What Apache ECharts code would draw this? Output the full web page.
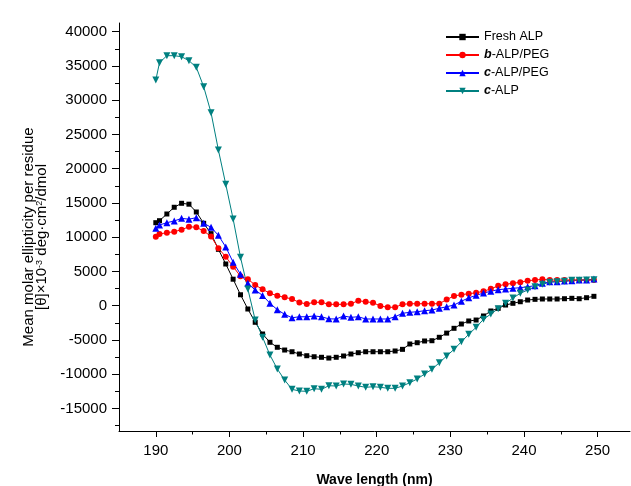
<!DOCTYPE html>
<html>
<head>
<meta charset="utf-8">
<script src="https://cdn.jsdelivr.net/npm/echarts@6/dist/echarts.min.js"></script>
<style>
  html, body { margin: 0; padding: 0; background: #fff; }
  #CDChart { width: 631px; height: 486px; }
</style>
</head>
<body>
<div id="CDChart"></div>
<script>
// wavelength (nm) of each measured point
var wavelength = [190, 190.5, 191.5, 192.5, 193.5, 194.5, 195.5, 196.5, 197.5, 198.5,
    199.5, 200.5, 201.5, 202.5, 203.5, 204.5, 205.5, 206.5, 207.5, 208.5,
    209.5, 210.5, 211.5, 212.5, 213.5, 214.5, 215.5, 216.5, 217.5, 218.5,
    219.5, 220.5, 221.5, 222.5, 223.5, 224.5, 225.5, 226.5, 227.5, 228.5,
    229.5, 230.5, 231.5, 232.5, 233.5, 234.5, 235.5, 236.5, 237.5, 238.5,
    239.5, 240.5, 241.5, 242.5, 243.5, 244.5, 245.5, 246.5, 247.5, 248.5, 249.5];

var freshALP = [12120, 12410, 13390, 14370, 14950, 14820, 13680, 12030, 10520, 8230,
    6090, 3870, 1600, -480, -2420, -4130, -5340, -6070, -6470, -6720,
    -7050, -7300, -7450, -7530, -7640, -7530, -7340, -7050, -6860, -6720,
    -6720, -6720, -6720, -6610, -6370, -5590, -5400, -5150, -5110, -4610,
    -4000, -3300, -2670, -2230, -2090, -1500, -770, -380, 100, 350,
    580, 830, 930, 980, 980, 980, 1020, 1080, 1020, 1170, 1370];

var bALPPEG = [10070, 10470, 10660, 10800, 11100, 11530, 11450, 10900, 10120, 8380,
    7150, 5700, 4300, 3880, 3020, 2390, 1810, 1460, 1220, 980,
    470, 250, 500, 500, 200, 200, 200, 290, 730, 580,
    440, -40, -230, -230, 200, 290, 290, 290, 290, 290,
    900, 1420, 1610, 1760, 1880, 2110, 2460, 2900, 3120, 3270,
    3420, 3650, 3750, 3850, 3750, 3750, 3750, 3750, 3750, 3750, 3750];

var cALPPEG = [11300, 11780, 12120, 12370, 12750, 12630, 12850, 12030, 11450, 10270,
    8570, 6350, 4600, 3270, 2290, 1500, 350, -580, -1260, -1760,
    -1610, -1610, -1500, -1610, -1920, -1940, -1500, -1700, -1610, -1940,
    -1940, -1940, -1940, -1610, -1110, -960, -880, -730, -630, -380,
    -150, 100, 650, 1150, 1510, 1850, 2110, 2340, 2440, 2540,
    2630, 2770, 2920, 3270, 3500, 3500, 3600, 3650, 3750, 3750, 3900];

var cALP = [32950, 35480, 36500, 36500, 36350, 35770, 34800, 31970, 28180, 22730,
    17720, 12660, 7070, 2440, -2090, -4610, -7200, -9240, -10850, -12210,
    -12450, -12500, -12110, -12210, -11680, -11720, -11430, -11480, -11720, -11910,
    -11830, -11910, -12060, -12060, -11720, -11240, -10700, -9970, -9290, -8320,
    -7340, -6370, -5260, -4180, -3150, -1990, -1210, -440, 350, 1120,
    1810, 2290, 2770, 3120, 3420, 3500, 3560, 3710, 3710, 3750, 3800];

// tick values
var xMajorTicks = [190, 200, 210, 220, 230, 240, 250];
var xMinorTicks = [195, 205, 215, 225, 235, 245];
var yMajorTicks = [-15000, -10000, -5000, 0, 5000, 10000, 15000, 20000, 25000, 30000, 35000, 40000];
var yMinorTicks = [-17500, -12500, -7500, -2500, 2500, 7500, 12500, 17500, 22500, 27500, 32500, 37500];

var FONT = '"Liberation Sans", Arial, sans-serif';

function pairs(ys) {
    var out = [];
    for (var i = 0; i < wavelength.length; i++) {
        out.push([wavelength[i], ys[i]]);
    }
    return out;
}

function makeSeries(name, color, symbol, size, ys, rotate) {
    return {
        name: name,
        type: 'line',
        xAxisIndex: 0,
        yAxisIndex: 0,
        symbol: symbol,
        symbolSize: size,
        symbolRotate: rotate || 0,
        showAllSymbol: true,
        lineStyle: { color: color, width: 1 },
        itemStyle: { color: color },
        data: pairs(ys)
    };
}

var myChart = echarts.init(document.getElementById('CDChart'), null, { renderer: 'canvas' });

var xRange = { min: 185, max: 254.4 };
var yRange = { min: -18290, max: 41270 };

var option = {
    animation: false,
    backgroundColor: '#fff',
    // fixed plot box, do not let v6 shrink it to fit the axis names
    grid: { left: 119, right: 1, top: 23, bottom: 55, outerBoundsMode: 'none', containLabel: false },
    legend: {
        orient: 'vertical',
        left: 445,
        top: 30.5,
        padding: 0,
        itemWidth: 33,
        itemHeight: 8,
        itemGap: 5,
        textStyle: {
            fontFamily: FONT, fontSize: 12.5, color: '#000',
            rich: {
                bi: { fontFamily: FONT, fontSize: 12.5, fontWeight: 'bold', fontStyle: 'italic', color: '#000' },
                t: { fontFamily: FONT, fontSize: 12.5, color: '#000' }
            }
        },
        formatter: function (name) {
            if (name.charAt(1) === '-') {
                return '{bi|' + name.charAt(0) + '}{t|' + name.slice(1) + '}';
            }
            return name;
        },
        data: ['Fresh ALP', 'b-ALP/PEG', 'c-ALP/PEG', 'c-ALP']
    },
    xAxis: [
        {
            type: 'value',
            min: xRange.min,
            max: xRange.max,
            name: 'Wave length (nm)',
            nameLocation: 'middle',
            nameGap: 42,
            nameTextStyle: { fontFamily: FONT, fontSize: 14, fontWeight: 'bold', color: '#000' },
            axisLine: { show: true, onZero: false, lineStyle: { color: '#000', width: 1 } },
            axisTick: { show: true, inside: false, length: 6, customValues: xMajorTicks, lineStyle: { color: '#000' } },
            axisLabel: {
                margin: 12, customValues: xMajorTicks, fontFamily: FONT, fontSize: 15, color: '#000',
                formatter: function (v) { return String(v); }
            },
            splitLine: { show: false }
        },
        {
            // minor ticks only
            type: 'value',
            position: 'bottom',
            min: xRange.min,
            max: xRange.max,
            axisLine: { show: false, onZero: false },
            axisTick: { show: true, inside: false, length: 3.5, customValues: xMinorTicks, lineStyle: { color: '#000' } },
            axisLabel: { show: false },
            splitLine: { show: false }
        }
    ],
    yAxis: [
        {
            type: 'value',
            min: yRange.min,
            max: yRange.max,
            name: 'Mean molar ellipticity per residue\n[θ]×10{sup|-3} deg·cm{sup|2}/dmol',
            nameLocation: 'middle',
            nameRotate: 90,
            nameGap: 70,
            nameTextStyle: {
                fontFamily: FONT, fontSize: 15, color: '#000', lineHeight: 13.5,
                padding: [0, 20, 0, 0],
                rich: {
                    sup: { fontFamily: FONT, fontSize: 9, verticalAlign: 'top', lineHeight: 13.5, color: '#000' }
                }
            },
            axisLine: { show: true, onZero: false, lineStyle: { color: '#000', width: 1 } },
            axisTick: { show: true, inside: false, length: 7, customValues: yMajorTicks, lineStyle: { color: '#000' } },
            axisLabel: {
                margin: 12, customValues: yMajorTicks, fontFamily: FONT, fontSize: 15, color: '#000',
                formatter: function (v) { return String(v); }
            },
            splitLine: { show: false }
        },
        {
            // minor ticks only
            type: 'value',
            position: 'left',
            min: yRange.min,
            max: yRange.max,
            axisLine: { show: false, onZero: false },
            axisTick: { show: true, inside: false, length: 4, customValues: yMinorTicks, lineStyle: { color: '#000' } },
            axisLabel: { show: false },
            splitLine: { show: false }
        }
    ],
    series: [
        makeSeries('Fresh ALP', '#000000', 'rect', 5, freshALP),
        makeSeries('b-ALP/PEG', '#ff0000', 'circle', 6, bALPPEG),
        makeSeries('c-ALP/PEG', '#0000ff', 'triangle', 7, cALPPEG),
        makeSeries('c-ALP', '#008080', 'triangle', 7, cALP, 180)
    ]
};

myChart.setOption(option, true);
</script>
</body>
</html>
